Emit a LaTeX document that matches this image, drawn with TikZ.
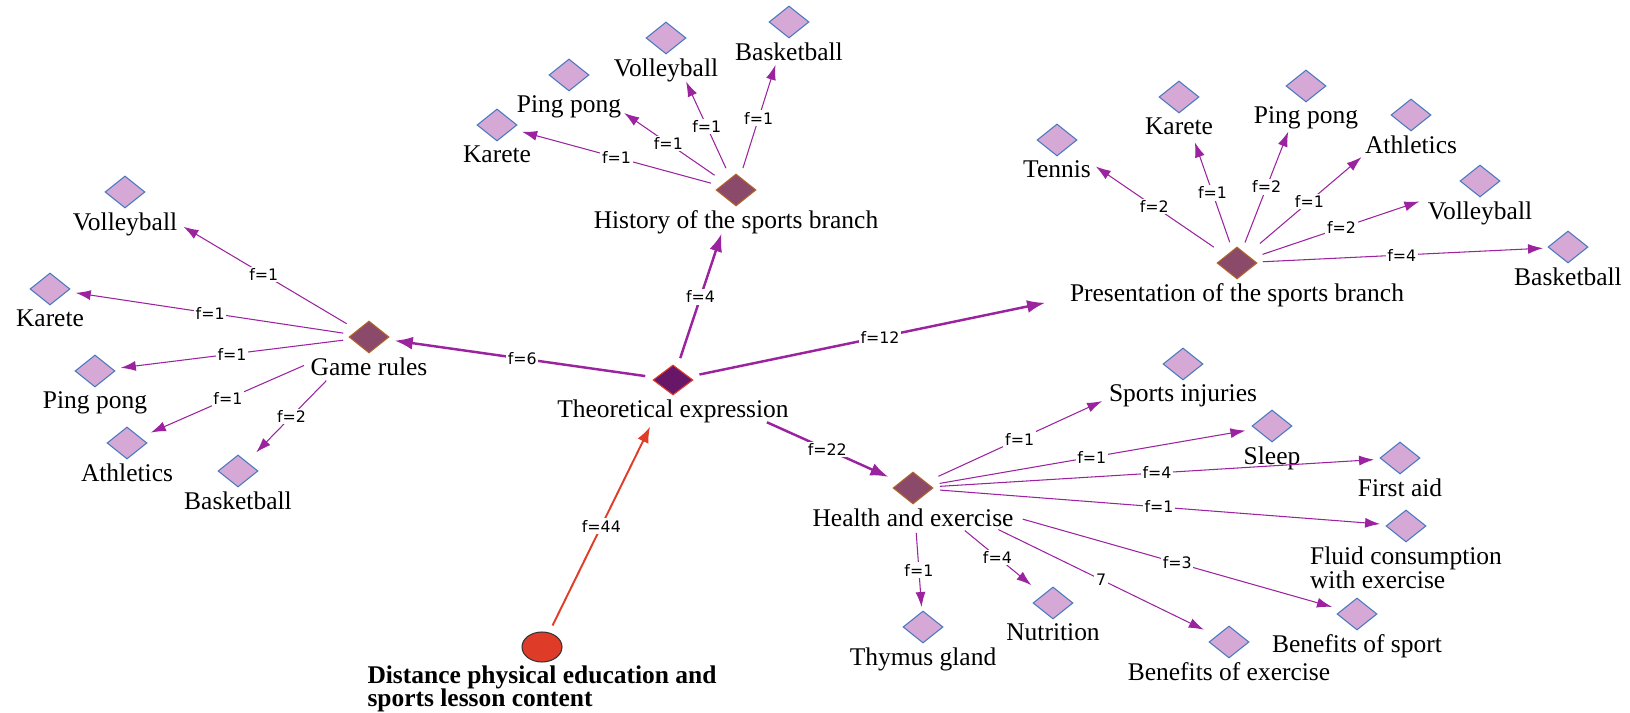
\documentclass[tikz,border=0pt]{standalone}
\usepackage{fontspec}
\setmainfont{Liberation Serif}
\newfontfamily\flabfont{DejaVu Sans}
\usepackage{xcolor}
\definecolor{leafFill}{RGB}{214,168,214}
\definecolor{leafDraw}{RGB}{70,120,190}
\definecolor{branchFill}{RGB}{140,74,106}
\definecolor{branchDraw}{RGB}{176,100,40}
\definecolor{topicFill}{RGB}{104,22,104}
\definecolor{topicDraw}{RGB}{225,60,40}
\definecolor{rootFill}{RGB}{222,60,40}
\definecolor{edgeCol}{RGB}{155,35,160}
\usepackage{tikz}
\usetikzlibrary{arrows.meta, positioning, shapes.geometric}
\tikzset{
  leaf/.style={diamond, draw=leafDraw, fill=leafFill, line width=0.6pt,
    minimum width=8mm, minimum height=6.4mm, inner sep=0pt},
  branch/.style={leaf, draw=branchDraw, fill=branchFill},
  topic/.style={leaf, draw=topicDraw, fill=topicFill, minimum height=6mm},
  rootnode/.style={ellipse, draw=black!80, fill=rootFill, line width=0.6pt,
    minimum width=8mm, minimum height=6mm, inner sep=0pt},
  lbl/.style={font=\fontsize{14.5}{14}\selectfont, inner sep=0pt, align=left},
  flab/.style={font=\flabfont\fontsize{9}{10}\selectfont, fill=white, inner sep=1pt},
  leafedge/.style={draw=edgeCol, line width=0.6pt, -{Latex[length=3mm,width=2mm]}},
  mainedge/.style={draw=edgeCol, line width=1.4pt, -{Latex[length=3.6mm,width=2.6mm]}},
  rootedge/.style={draw=topicDraw, line width=1.1pt, -{Latex[length=3.2mm,width=2.4mm]}}
}
\begin{document}
\begin{tikzpicture}[x=0.2mm, y=-0.2mm]
\useasboundingbox (0,0) rectangle (1630,713);

% === Centre and branches ===
\node[topic] (te) at (673,380) {};
\node[lbl, below=2pt of te] (te-t) {Theoretical expression};
\node[branch] (gr) at (369,337) {};
\node[lbl, below=2.5pt of gr] (gr-t) {Game rules};
\node[branch] (hs) at (736,190) {};
\node[lbl, below=2pt of hs] (hs-t) {History of the sports branch};
\node[branch] (pr) at (1237,263) {};
\node[lbl, below=2pt of pr] (pr-t) {Presentation of the sports branch};
\node[branch] (he) at (913,488) {};
\node[lbl, below=2pt of he] (he-t) {Health and exercise};

% === Root ===
\node[rootnode] (root) at (542,647) {};
\node[lbl, font=\fontsize{14.5}{13.2}\selectfont\bfseries, below=1.5pt of root] (root-t)
  {Distance physical education and\\sports lesson content};

% === Leaves ===
\foreach \nm/\x/\y/\txt in {grV/125/192/Volleyball, grK/50/289/Karete, grP/95/371/Ping pong,
  grA/127/443/Athletics, grB/238/471/Basketball,
  hsK/497/125/Karete, hsP/569/75/Ping pong, hsV/666/38/Volleyball, hsB/789/22/Basketball,
  prT/1057/140/Tennis, prK/1179/97/Karete, prP/1306/86/Ping pong, prA/1411/115/Athletics,
  prV/1480/181/Volleyball, prB/1568/247/Basketball,
  heI/1183/364/Sports injuries, heS/1272/426/Sleep, heF/1400/458/First aid,
  heW/1406/526/{Fluid consumption\\with exercise}, heBS/1357/614/Benefits of sport,
  heBE/1229/642/Benefits of exercise, heN/1053/603/Nutrition, heT/923/627/Thymus gland}
{
  \node[leaf] (\nm) at (\x,\y) {};
  \node[lbl, below=2pt of \nm] (\nm-t) {\txt};
}

% === Main connectors ===
\draw[rootedge, shorten <=24*0.2mm, shorten >=52*0.2mm] (root.center) -- node[flab, pos=.453] {f=44} (te.center);
\draw[mainedge, shorten <=23*0.2mm, shorten >=46*0.2mm] (te.center) -- node[flab, pos=.438] {f=4} (hs.center);
\draw[mainedge, shorten <=28*0.2mm, shorten >=26*0.2mm] (te.center) -- node[flab, pos=.496] {f=6} (gr.center);
\draw[mainedge, shorten <=27*0.2mm, shorten >=196*0.2mm] (te.center) -- node[flab, pos=.367] {f=12} (pr.center);
\draw[mainedge, shorten <=103*0.2mm, shorten >=27*0.2mm] (te.center) -- node[flab, pos=.643] {f=22} (he.center);

% === Leaf connectors: from/to/pos/label/shorten start/shorten end ===
\foreach \a/\b/\p/\f/\s/\e in {gr/grV/.431/f=1/26/68, gr/grK/.498/f=1/26/26, gr/grP/.5/f=1/26/26,
  gr/grA/.583/f=1/71/26, gr/grB/.592/f=2/61/26,
  hs/hsK/.5/f=1/26/26, hs/hsP/.405/f=1/26/67, hs/hsV/.417/f=1/24/48, hs/hsB/.427/f=1/23/45,
  pr/prT/.46/f=2/28/47, pr/prK/.423/f=1/22/48, pr/prP/.43/f=2/22/49, pr/prA/.416/f=1/30/65,
  pr/prV/.43/f=2/27/64, pr/prB/.498/f=4/26/25,
  he/heI/.395/f=1/28/89, he/heS/.498/f=1/27/27, he/heF/.501/f=4/27/26, he/heW/.499/f=1/27/26,
  he/heBS/.595/f=3/114/26, he/heBE/.595/7/95/28, he/heN/.603/f=4/67/28, he/heT/.59/f=1/45/20}
{
  \draw[leafedge, shorten <=\s*0.2mm, shorten >=\e*0.2mm] (\a.center) -- node[flab, pos=\p] {\f} (\b.center);
}
\end{tikzpicture}
\end{document}
